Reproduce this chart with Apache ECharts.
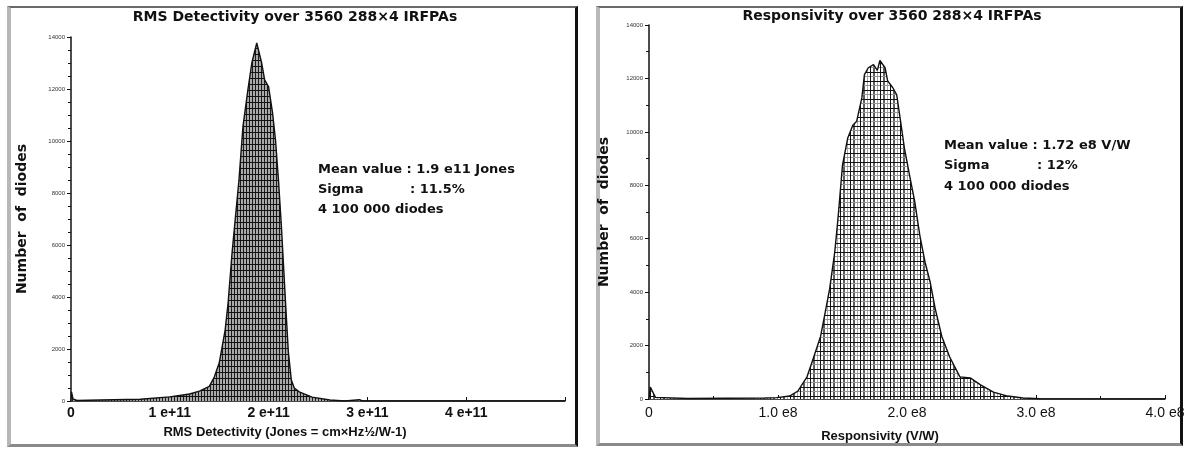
<!DOCTYPE html>
<html>
<head>
<meta charset="utf-8">
<script src="https://cdn.jsdelivr.net/npm/echarts@6.0.0/dist/echarts.min.js"></script>
<style>
	html, body { margin: 0; padding: 0; background: #fff; }
	body { width: 1189px; height: 449px; position: relative; overflow: hidden; }
	.frame {
		position: absolute;
		box-sizing: border-box;
		background: #fff;
		border-top: 2px solid #6a6a6a;
		border-left: 4px solid #b8b8b8;
		border-right: 3px solid #111;
		border-bottom: 3px solid #8a8a8a;
	}
	#left-frame { left: 7px; top: 6px; width: 571px; height: 441px; }
	#right-frame { left: 596px; top: 6px; width: 587px; height: 440px; }
	#chart { position: absolute; left: 0; top: 0; width: 1189px; height: 449px; }
</style>
</head>
<body>
<div class="frame" id="left-frame"></div>
<div class="frame" id="right-frame"></div>
<div id="chart"></div>
<script>
// RMS detectivity histogram, x in units of 1e11 Jones
const detectivityX = [0, 0.005, 0.02, 0.06, 0.3, 0.7, 1.0, 1.2, 1.3, 1.4, 1.45, 1.5, 1.56, 1.59, 1.63, 1.66, 1.7, 1.74, 1.79, 1.83, 1.88, 1.93, 1.96, 2.0, 2.04, 2.07, 2.1, 2.13, 2.17, 2.2, 2.23, 2.26, 2.31, 2.44, 2.62, 2.77, 2.92, 2.95, 3.0, 5.0];
const detectivityCount = [0, 350, 80, 20, 40, 70, 160, 270, 380, 560, 920, 1460, 2730, 3770, 5690, 6900, 8500, 10540, 11960, 13000, 13770, 13000, 12350, 12080, 11080, 10040, 8500, 6690, 3880, 1880, 810, 500, 350, 150, 40, 0, 50, 0, 0, 0];

// responsivity histogram, x in units of 1e8 V/W
const responsivityX = [0, 0.01, 0.05, 0.3, 0.6, 0.9, 0.99, 1.09, 1.155, 1.225, 1.27, 1.33, 1.36, 1.40, 1.44, 1.465, 1.50, 1.54, 1.58, 1.61, 1.65, 1.67, 1.70, 1.74, 1.77, 1.79, 1.83, 1.85, 1.89, 1.92, 1.95, 1.98, 2.02, 2.06, 2.10, 2.14, 2.18, 2.22, 2.27, 2.33, 2.41, 2.49, 2.57, 2.67, 2.78, 2.90, 3.03, 4.0];
const responsivityCount = [0, 450, 60, 20, 30, 40, 50, 110, 300, 830, 1470, 2340, 3090, 4110, 5500, 6750, 8750, 9760, 10250, 10400, 11270, 12140, 12400, 12520, 12300, 12670, 12400, 11910, 11650, 11390, 10400, 9390, 8370, 7390, 6110, 5120, 4370, 3350, 2340, 1580, 830, 790, 530, 260, 110, 40, 10, 0];

const detectivityTicks = ["0", "1 e+11", "2 e+11", "3 e+11", "4 e+11", ""];
const responsivityTicks = ["0", "1.0 e8", "2.0 e8", "3.0 e8", "4.0 e8"];

const detectivityNotes = ["Mean value : 1.9 e11 Jones", "Sigma", ": 11.5%", "4 100 000 diodes"];
const responsivityNotes = ["Mean value : 1.72 e8 V/W", "Sigma", ": 12%", "4 100 000 diodes"];

const font = "'Liberation Sans', Arial, sans-serif";
const heavy = "'DejaVu Sans', 'Liberation Sans', sans-serif";
const ink = "#111";

const hatch = (w, h, paint) => {
	const c = document.createElement("canvas");
	c.width = w;
	c.height = h;
	const g = c.getContext("2d");
	paint(g);
	return { image: c, repeat: "repeat" };
};

const denseHatch = hatch(3, 6, g => {
	g.fillStyle = "#a9a9a9";
	g.fillRect(0, 0, 3, 6);
	g.fillStyle = "#1c1c1c";
	g.fillRect(0, 0, 1, 6);
	g.fillStyle = "#111";
	g.fillRect(0, 0, 3, 1);
});

const plaidHatch = hatch(10, 9, g => {
	g.fillStyle = "#fff";
	g.fillRect(0, 0, 10, 9);
	g.fillStyle = "#5e5e5e";
	g.fillRect(3, 0, 2, 9);
	g.fillStyle = "#a8a8a8";
	g.fillRect(7, 0, 1, 9);
	g.fillStyle = "#989898";
	g.fillRect(0, 4, 10, 1);
	g.fillStyle = "#111";
	g.fillRect(0, 0, 1, 9);
	g.fillRect(0, 0, 10, 1);
});

const pairs = (xs, ys) => xs.map((x, i) => [x, ys[i]]);

const yAxis = (gridIndex, minorSplit, nameGap) => ({
	gridIndex,
	type: "value",
	min: 0,
	max: 14000,
	interval: 2000,
	name: "Number  of  diodes",
	nameLocation: "middle",
	nameGap,
	nameTextStyle: { color: ink, fontFamily: heavy, fontWeight: "bold", fontSize: 14 },
	axisLine: { show: true, lineStyle: { color: ink, width: 1.5 } },
	axisTick: { show: true, length: 4, lineStyle: { color: ink } },
	minorTick: { show: true, splitNumber: minorSplit, length: 3, lineStyle: { color: ink } },
	axisLabel: { color: "#333", fontFamily: font, fontSize: 6, margin: 6, formatter: value => String(value) },
	splitLine: { show: false }
});

const xAxis = (gridIndex, max, ticks, bold, minorSplit, margin) => ({
	gridIndex,
	type: "value",
	min: 0,
	max,
	interval: 1,
	axisLine: { lineStyle: { color: ink, width: 1.5 } },
	axisTick: { show: true, inside: true, length: 4, lineStyle: { color: ink } },
	minorTick: { show: minorSplit > 0, splitNumber: minorSplit || 5, length: 3, lineStyle: { color: ink } },
	axisLabel: {
		color: ink,
		fontFamily: font,
		fontSize: 14,
		fontWeight: bold ? "bold" : "normal",
		margin,
		formatter: value => ticks[Math.round(value)]
	},
	splitLine: { show: false }
});

const histogram = (index, xs, ys, fill) => ({
	type: "line",
	xAxisIndex: index,
	yAxisIndex: index,
	data: pairs(xs, ys),
	showSymbol: false,
	lineStyle: { color: ink, width: 1.4 },
	areaStyle: { color: fill, opacity: 1 },
	silent: true
});

const noteText = (x, y, text) => ({
	type: "text",
	x,
	y,
	style: { text, fill: ink, font: `bold 13px ${heavy}`, textVerticalAlign: "middle" }
});

const chart = echarts.init(document.getElementById("chart"), null, { renderer: "canvas" });

chart.setOption({
	animation: false,
	title: [
		{ text: "RMS Detectivity over 3560 288×4 IRFPAs", left: 290, top: 5, textAlign: "center", textStyle: { color: ink, fontFamily: heavy, fontWeight: "bold", fontSize: 14 } },
		{ text: "Responsivity over 3560 288×4 IRFPAs", left: 887, top: 4, textAlign: "center", textStyle: { color: ink, fontFamily: heavy, fontWeight: "bold", fontSize: 14 } }
	],
	grid: [
		{ left: 71, right: 624, top: 37, bottom: 48 },
		{ left: 649, right: 24, top: 25, bottom: 50 }
	],
	xAxis: [
		xAxis(0, 5, detectivityTicks, true, 0, 5),
		xAxis(1, 4, responsivityTicks, false, 2, 7)
	],
	yAxis: [yAxis(0, 4, 42), yAxis(1, 2, 38)],
	series: [
		histogram(0, detectivityX, detectivityCount, denseHatch),
		histogram(1, responsivityX, responsivityCount, plaidHatch)
	],
	graphic: [
		{ type: "text", x: 285, y: 432, style: { text: "RMS Detectivity (Jones = cm×Hz½/W-1)", fill: ink, font: `bold 13px ${font}`, textAlign: "center", textVerticalAlign: "middle" } },
		{ type: "text", x: 880, y: 436, style: { text: "Responsivity (V/W)", fill: ink, font: `bold 13px ${font}`, textAlign: "center", textVerticalAlign: "middle" } },
		noteText(318, 170, detectivityNotes[0]),
		noteText(318, 190, detectivityNotes[1]),
		noteText(410, 190, detectivityNotes[2]),
		noteText(318, 210, detectivityNotes[3]),
		noteText(944, 146, responsivityNotes[0]),
		noteText(944, 166, responsivityNotes[1]),
		noteText(1037, 166, responsivityNotes[2]),
		noteText(944, 187, responsivityNotes[3])
	]
});
</script>
</body>
</html>
